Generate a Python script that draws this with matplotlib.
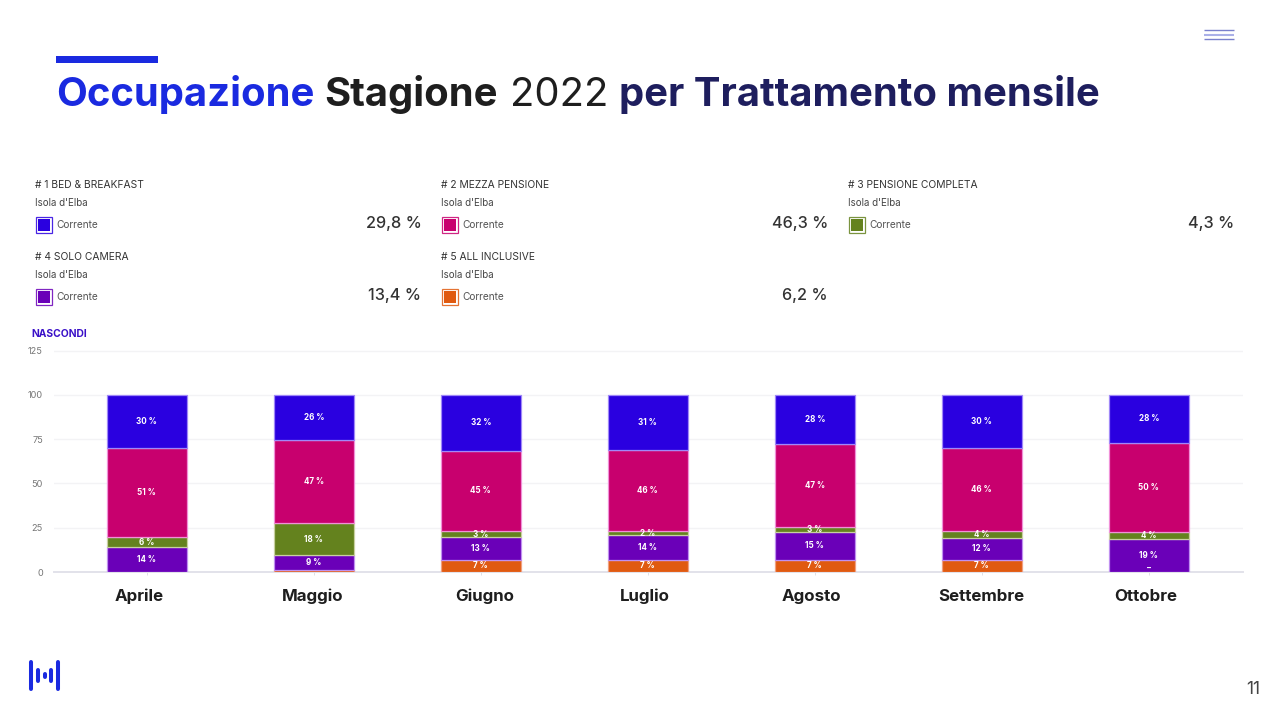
import matplotlib
matplotlib.use('agg')
import matplotlib.pyplot as plt
import numpy as np
from matplotlib.patches import Rectangle

plt.rcParams['font.family'] = ['Inter', 'DejaVu Sans']

# dati del grafico
mesi = ['Aprile', 'Maggio', 'Giugno', 'Luglio', 'Agosto', 'Settembre', 'Ottobre']
all_inclusive = [0, 1, 7, 7, 7, 7, 0]
solo_camera = [14, 8.5, 12.5, 14, 15.5, 12, 18.7]
pensione_completa = [5.5, 18, 3.5, 2, 3, 4, 4]
mezza_pensione = [50.5, 47, 45.5, 46, 46.5, 47, 50]
bed_breakfast = [30, 25.5, 31.5, 31, 28, 30, 27.3]

lab_all = ['', '', '7 %', '7 %', '7 %', '7 %', '–']
lab_solo = ['14 %', '9 %', '13 %', '14 %', '15 %', '12 %', '19 %']
lab_pens = ['6 %', '18 %', '3 %', '2 %', '3 %', '4 %', '4 %']
lab_mezza = ['51 %', '47 %', '45 %', '46 %', '47 %', '46 %', '50 %']
lab_bed = ['30 %', '26 %', '32 %', '31 %', '28 %', '30 %', '28 %']

y_ticks = [0, 25, 50, 75, 100, 125]

legenda_titoli = ['# 1 BED & BREAKFAST', '# 2 MEZZA PENSIONE', '# 3 PENSIONE COMPLETA',
                  '# 4 SOLO CAMERA', '# 5 ALL INCLUSIVE']
legenda_valori = ['29,8 %', '46,3 %', '4,3 %', '13,4 %', '6,2 %']

BLU = '#2a00e0'
MAGENTA = '#c8006e'
VERDE = '#64821e'
VIOLA = '#6a00b8'
ARANCIO = '#e05a10'

W, H = 1280, 720
fig = plt.figure(figsize=(12.8, 7.2), dpi=100, facecolor='white')

# sfondo in coordinate pixel per testi e decorazioni
bg = fig.add_axes([0, 0, 1, 1])
bg.set_xlim(0, W)
bg.set_ylim(H, 0)
bg.axis('off')

# grafico a barre, y=0 a 572px e y=125 a 350px
left, right, top, bottom = 54, 1243, 350.5, 572
ax = fig.add_axes([left / W, 1 - bottom / H, (right - left) / W, (bottom - top) / H])
ax.patch.set_alpha(0)
x = np.arange(len(mesi))
ax.set_xlim((left - 146.8) / 167, (right - 146.8) / 167)
ax.set_ylim(0, 125)

serie = [
    (all_inclusive, ARANCIO, '#f0a080', lab_all),
    (solo_camera, VIOLA, '#c090f0', lab_solo),
    (pensione_completa, VERDE, '#c8d0a0', lab_pens),
    (mezza_pensione, MAGENTA, '#f090d8', lab_mezza),
    (bed_breakfast, BLU, '#a088f8', lab_bed),
]
base = np.zeros(len(mesi))
for valori, colore, bordo, etichette in serie:
    valori = np.array(valori, dtype=float)
    ax.bar(x, valori, 0.478, bottom=base, color=colore, edgecolor=bordo, linewidth=0.9, zorder=3)
    for i, et in enumerate(etichette):
        if et == '':
            continue
        yy = base[i] + valori[i] / 2
        if et == '–':
            yy = 2
        ax.text(x[i], yy, et, color='white', fontsize=5.8, fontweight='bold',
                ha='center', va='center', zorder=4)
    base = base + valori

ax.set_yticks(y_ticks)
ax.set_xticks(x)
ax.set_xticklabels([])
ax.grid(axis='y', color='#f3f3f5', linewidth=1, zorder=0)
ax.tick_params(axis='y', length=0, labelsize=6.6, labelcolor='#777777', pad=8)
ax.tick_params(axis='x', length=2, color='#e0e0e6', width=0.7)
for s in ['top', 'left', 'right']:
    ax.spines[s].set_visible(False)
ax.spines['bottom'].set_color('#e2e2ea')
ax.spines['bottom'].set_linewidth(1.4)

# nomi dei mesi
centri = [139.5, 313, 484.5, 645, 811, 981, 1146]
for c, m in zip(centri, mesi):
    bg.text(c, 601, m, fontsize=12.2, fontweight='bold', color='#1e1e1e', ha='center', va='baseline')

# titolo
bg.add_patch(Rectangle((56, 56), 102, 7, color='#1a2ae0', lw=0))
titolo = [(56, 'Occupazione', '#1a2ae0', 'bold'), (324, 'Stagione', '#1e1e1e', 'bold'),
          (510, '2022', '#1e1e1e', 'normal'), (619, 'per Trattamento mensile', '#1e1e5e', 'bold')]
for xp, t, col, peso in titolo:
    bg.text(xp, 106, t, fontsize=28.8, fontweight=peso, color=col, ha='left', va='baseline')

# legenda in alto
blocchi = [(35, 178), (441, 178), (848, 178), (35, 250), (441, 250)]
fine_valore = [421.5, 828, 1234, 421.5, 828]
colori_leg = [BLU, MAGENTA, VERDE, VIOLA, ARANCIO]
for (xp, yp), tit, val, xv, col in zip(blocchi, legenda_titoli, legenda_valori, fine_valore, colori_leg):
    bg.text(xp, yp + 6.5, tit, fontsize=7.4, color='#333333', ha='left', va='center')
    bg.text(xp, yp + 24.5, "Isola d'Elba", fontsize=7, color='#444444', ha='left', va='center')
    bg.add_patch(Rectangle((xp + 0.5, yp + 38.5), 16.5, 16, facecolor='white', edgecolor=col, lw=0.9, alpha=0.85))
    bg.add_patch(Rectangle((xp + 2.5, yp + 40.5), 12.5, 12, facecolor=col, lw=0))
    bg.text(xp + 21, yp + 46.5, 'Corrente', fontsize=7.3, color='#555555', ha='left', va='center')
    bg.text(xv, yp + 50, val, fontsize=11.7, fontweight='medium', color='#333333', ha='right', va='baseline')

bg.text(31, 334, 'NASCONDI', fontsize=7.4, fontweight='bold', color='#3a10c8', ha='left', va='center')

# icona menu in alto a destra
for yy, col, lw in [(30, '#7a80cc', 1), (35, '#aab0e8', 1.5), (39, '#7a80cc', 1)]:
    bg.plot([1204, 1234], [yy, yy], color=col, lw=lw, solid_capstyle='butt')

# logo
for xp, h in [(31, 13.5), (38, 5.5), (44.5, 1.5), (51, 5.5), (58, 13.5)]:
    bg.plot([xp, xp], [675 - h, 675 + h], color='#1a2ae0', lw=2.9, solid_capstyle='round')

bg.text(1253.5, 689, '11', fontsize=12.5, color='#444444', ha='center', va='center')

plt.savefig('out.png', dpi=100)
